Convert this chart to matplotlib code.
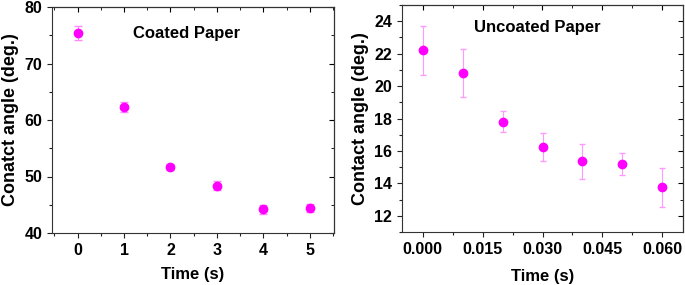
import matplotlib
matplotlib.use('Agg')
from matplotlib import pyplot as plt
from matplotlib.ticker import MultipleLocator, FormatStrFormatter

plt.rcParams['font.family'] = ['Liberation Sans', 'DejaVu Sans']
plt.rcParams['font.weight'] = 'bold'

# coated paper
t_coated = [0, 1, 2, 3, 4, 5]
angle_coated = [75.4, 62.3, 51.7, 48.4, 44.2, 44.5]
err_coated = [1.2, 0.8, 0.5, 0.8, 0.8, 0.7]

# uncoated paper
t_uncoated = [0.0, 0.01, 0.02, 0.03, 0.04, 0.05, 0.06]
angle_uncoated = [22.2, 20.8, 17.8, 16.25, 15.35, 15.2, 13.75]
err_uncoated = [1.5, 1.5, 0.65, 0.85, 1.1, 0.7, 1.2]

fig = plt.figure(figsize=(6.85, 2.85), dpi=100)
ax1 = fig.add_axes([52/685, 1-233/285, 282/685, 226/285])
ax2 = fig.add_axes([402/685, 1-232/285, 281/685, 227/285])

def style(ax, xmaj, xmin, ymaj, ymin):
    ax.xaxis.set_major_locator(MultipleLocator(xmaj))
    ax.xaxis.set_minor_locator(MultipleLocator(xmin))
    ax.yaxis.set_major_locator(MultipleLocator(ymaj))
    ax.yaxis.set_minor_locator(MultipleLocator(ymin))
    ax.tick_params(which='both', direction='out', top=False, right=False,
                   labelsize=11.5, width=0.8, colors='#222222', labelcolor='black')
    ax.tick_params(which='major', length=3.5)
    ax.tick_params(which='minor', length=2)
    # mirrored inward ticks on top and right, no labels
    tx = ax.secondary_xaxis('top')
    tx.tick_params(which='both', direction='in', labeltop=False)
    tx.xaxis.set_major_locator(MultipleLocator(xmaj))
    tx.xaxis.set_minor_locator(MultipleLocator(xmin))
    ty = ax.secondary_yaxis('right')
    ty.tick_params(which='both', direction='in', labelright=False)
    ty.yaxis.set_major_locator(MultipleLocator(ymaj))
    ty.yaxis.set_minor_locator(MultipleLocator(ymin))
    for sp in ax.spines.values():
        sp.set_color('#333333')

ax1.errorbar(t_coated, angle_coated, yerr=err_coated, fmt='o', color='#ff00ff',
             ecolor='#ff88ff', elinewidth=0.8, capsize=3, markersize=6)
ax1.set_xlim(-0.55, 5.52)
ax1.set_ylim(40, 80)
style(ax1, 1, 0.5, 10, 5)
ax1.set_xlabel('Time (s)', fontsize=12, fontweight='bold', labelpad=7)
ax1.set_ylabel('Conatct angle (deg.)', fontsize=13, fontweight='bold', labelpad=4)
ax1.text(1.2, 75.3, 'Coated Paper', fontsize=12, fontweight='bold', va='center')

ax2.errorbar(t_uncoated, angle_uncoated, yerr=err_uncoated, fmt='o', color='#ff00ff',
             ecolor='#ff99ff', elinewidth=0.8, capsize=2.5, markersize=6)
ax2.set_xlim(-0.0052, 0.0652)
ax2.set_ylim(11, 25)
style(ax2, 0.015, 0.0075, 2, 1)
ax2.xaxis.set_major_formatter(FormatStrFormatter('%.3f'))
ax2.set_xlabel('Time (s)', fontsize=12, fontweight='bold', labelpad=9)
ax2.set_ylabel('Contact angle (deg.)', fontsize=13, fontweight='bold', labelpad=4)
ax2.text(0.0128, 23.6, 'Uncoated Paper', fontsize=12, fontweight='bold', va='center')

fig.savefig('out.png', dpi=100)
